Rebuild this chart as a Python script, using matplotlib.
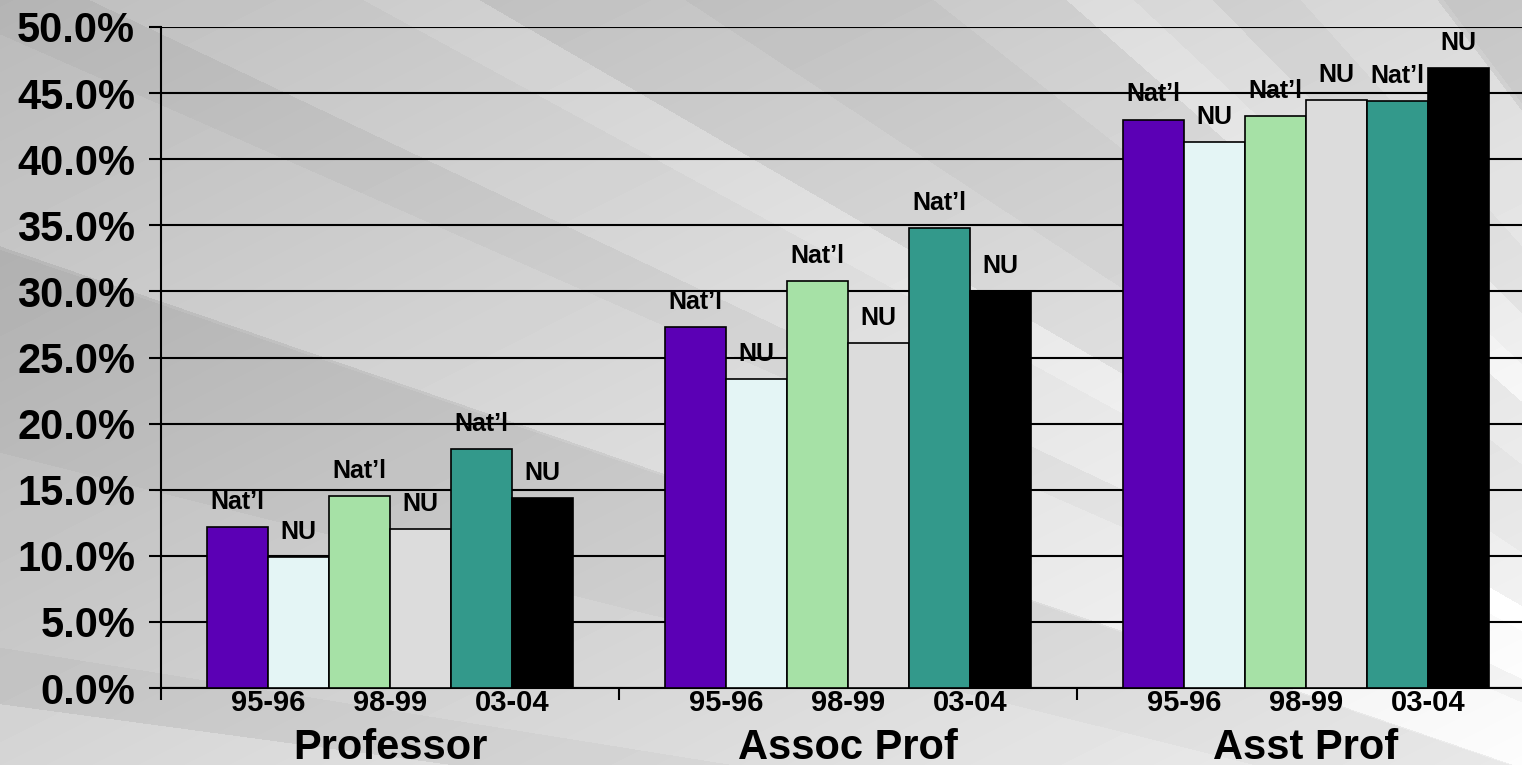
import numpy as np
import matplotlib
matplotlib.use("Agg")
import matplotlib.pyplot as plt
import matplotlib.transforms as mtransforms

# data
groups = ["Professor", "Assoc Prof", "Asst Prof"]
years = ["95-96", "98-99", "03-04"]
series_labels = ["Nat\u2019l", "NU", "Nat\u2019l", "NU", "Nat\u2019l", "NU"]
natl_9596 = [12.2, 27.3, 43.0]
nu_9596 = [9.9, 23.4, 41.3]
natl_9899 = [14.5, 30.8, 43.3]
nu_9899 = [12.0, 26.1, 44.5]
natl_0304 = [18.1, 34.8, 44.4]
nu_0304 = [14.4, 30.0, 46.9]
series = [natl_9596, nu_9596, natl_9899, nu_9899, natl_0304, nu_0304]
colors = ["#5B00B5", "#E4F5F5", "#A6E1A6", "#DCDCDC", "#33998B", "#000000"]

FONT = "Liberation Sans"
W, H = 1522, 765


def background():
    # grey rays fanning out towards the lower right
    yy, xx = np.mgrid[0:H, 0:W].astype(float)
    u = (xx / W + yy / H) / 2
    img = 0.71 + 0.26 * u
    th = np.arctan2(1000 - yy, 2200 - xx)
    img += 0.028 * np.sign(np.sin(th * 16 + 1.0))
    img += 0.020 * np.sign(np.sin(th * 9 + 2.3))
    img += 0.012 * np.sign(np.sin(th * 37 + 0.4))
    return np.clip(img, 0, 1)


def main():
    fig = plt.figure(figsize=(W / 100, H / 100), dpi=100)
    bg = fig.add_axes([0, 0, 1, 1])
    bg.imshow(background(), cmap="gray", vmin=0, vmax=1, aspect="auto")
    bg.axis("off")

    ax = fig.add_axes([161 / W, 1 - 688 / H, (1535 - 161) / W, (688 - 27) / H])
    ax.patch.set_alpha(0)

    x = np.arange(len(groups))
    bw = 0.1332
    for i, vals in enumerate(series):
        pos = x + (i - 2.5) * bw
        ax.bar(pos, vals, width=bw, color=colors[i], edgecolor="black",
               linewidth=1.2, zorder=3)
        for px, v in zip(pos, vals):
            ax.annotate(series_labels[i], (px, v), xytext=(0, 13),
                        textcoords="offset points", ha="center", va="baseline",
                        fontsize=18, fontweight="bold", family=FONT, zorder=4)

    ax.set_xlim(-0.5, 2.5)
    ax.set_ylim(0, 50)
    ax.set_yticks(np.arange(0, 51, 5))
    ax.set_yticklabels([f"{v:.1f}%" for v in np.arange(0, 51, 5)],
                       fontsize=30, fontweight="bold", family=FONT)
    ax.yaxis.grid(True, color="black", linewidth=1.5, zorder=1)
    ax.set_axisbelow(True)
    ax.tick_params(axis="y", length=8.6, width=1.5, pad=10, direction="out")
    ax.set_xticks([-0.5, 0.5, 1.5, 2.5])
    ax.set_xticklabels([])
    ax.tick_params(axis="x", length=8.6, width=1.5, direction="out")
    for s in ["top", "right"]:
        ax.spines[s].set_visible(False)
    for s in ["left", "bottom"]:
        ax.spines[s].set_linewidth(1.5)

    tr = mtransforms.blended_transform_factory(ax.transData, fig.transFigure)
    for g in x:
        for p, yr in enumerate(years):
            ax.text(g + (p - 1) * 2 * bw, 1 - 703 / H, yr, transform=tr,
                    ha="center", va="center", fontsize=21, fontweight="bold",
                    family=FONT)
        ax.text(g, 1 - 748 / H, groups[g], transform=tr, ha="center",
                va="center", fontsize=30, fontweight="bold", family=FONT)

    fig.savefig("out.png", dpi=100)


if __name__ == "__main__":
    main()
